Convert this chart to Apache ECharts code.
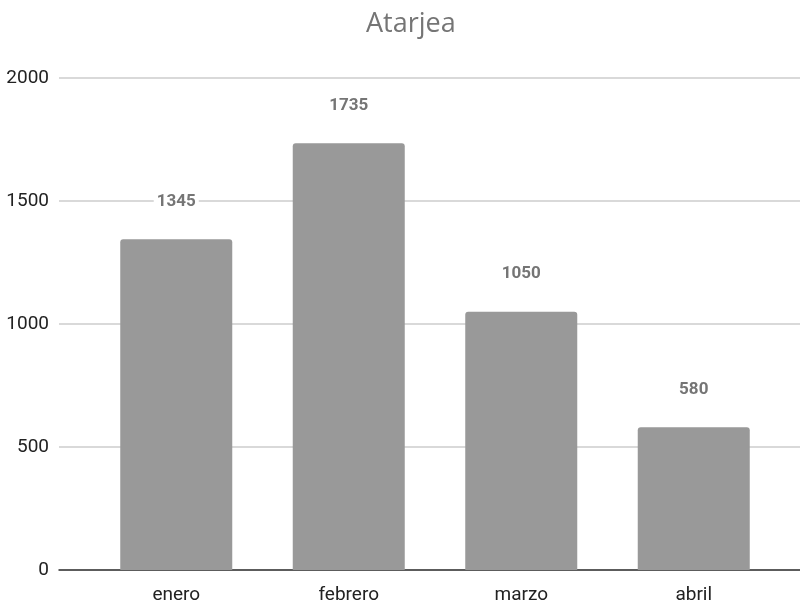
<!DOCTYPE html>
<html><head><meta charset="utf-8">
<script src="https://cdn.jsdelivr.net/npm/echarts@6/dist/echarts.min.js"></script>
<style>html,body{margin:0;padding:0;background:#fff}#c{width:800px;height:609px}</style>
</head><body><div id="c"></div>
<script>
const title = 'Atarjea';
const categories = ['enero', 'febrero', 'marzo', 'abril'];
const values = [1345, 1735, 1050, 580];
const yTicks = [0, 500, 1000, 1500, 2000];

const chart = echarts.init(document.getElementById('c'), null, {renderer: 'canvas'});
chart.setOption({
  animation: false,
  backgroundColor: '#fff',
  title: {text: title, left: 366, top: 11, itemGap: 0, padding: 0,
    textStyle: {fontFamily: 'Open Sans', fontSize: 27, fontWeight: 'normal', color: '#757575'}},
  grid: [
    {left: 90, right: 20, top: 78, bottom: 39},
    {left: 59, right: 0, top: 78, bottom: 39}
  ],
  xAxis: [
    {type: 'category', gridIndex: 0, data: categories,
      axisLine: {show: false}, axisTick: {show: false},
      axisLabel: {fontFamily: 'Roboto', fontSize: 19, color: '#222', margin: 16}},
    {type: 'category', gridIndex: 1, data: [''], show: true,
      axisLine: {show: true, lineStyle: {color: '#333', width: 1.5}},
      axisTick: {show: false}, axisLabel: {show: false}}
  ],
  yAxis: [
    {type: 'value', gridIndex: 0, min: 0, max: 2000, interval: 500, show: false, splitLine: {show: false}},
    {type: 'value', gridIndex: 1, min: yTicks[0], max: yTicks[yTicks.length - 1], interval: 500,
      axisLine: {show: false}, axisTick: {show: false},
      axisLabel: {fontFamily: 'Roboto', fontSize: 19, color: '#222', margin: 10,
        formatter: v => String(v)},
      splitLine: {lineStyle: {color: '#cccccc', width: 1.5}}}
  ],
  series: [{
    type: 'bar', xAxisIndex: 0, yAxisIndex: 0, data: values, barWidth: 112,
    itemStyle: {color: '#999999', borderRadius: [3, 3, 0, 0]},
    label: {show: true, position: 'top', distance: 29,
      fontFamily: 'Roboto', fontSize: 17, fontWeight: 'bold', color: '#757575',
      backgroundColor: '#fff', padding: [0, 3]}
  }]
});
</script></body></html>
